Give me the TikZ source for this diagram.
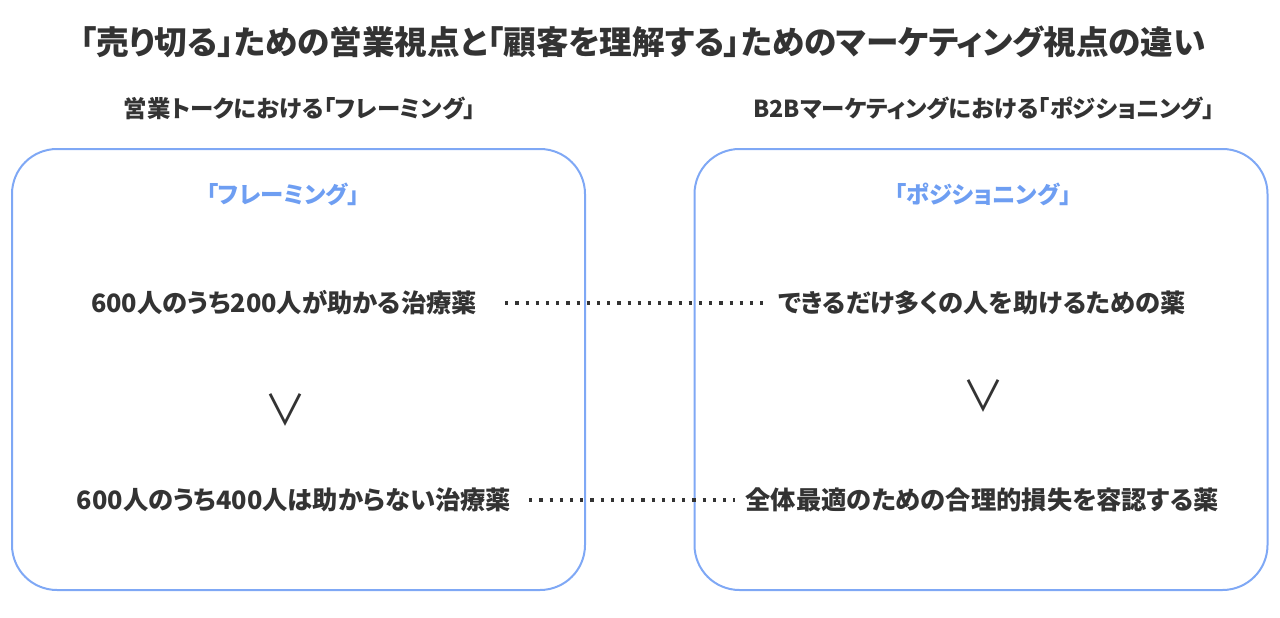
\documentclass[tikz,border=0pt]{standalone}
\usepackage{fontspec}
\setmainfont{Noto Sans CJK JP}[RawFeature=+palt]
\usetikzlibrary{positioning}
\definecolor{inkgray}{HTML}{333333}
\definecolor{frameblue}{HTML}{7FA8F5}
\definecolor{headblue}{HTML}{6E9EF2}

\begin{document}
\begin{tikzpicture}[x=1pt,y=-1pt,
    every node/.style={text=inkgray,inner sep=0pt},
    maintitle/.style={font=\bfseries\fontsize{32.6}{38}\selectfont},
    subtitle/.style={font=\bfseries\fontsize{23.4}{27}\selectfont},
    panel/.style={draw=frameblue,line width=2pt,rounded corners=45pt,
        minimum width=573pt,minimum height=441pt},
    panelhead/.style={text=headblue,font=\bfseries\fontsize{23.4}{27}\selectfont},
    rowtext/.style={font=\bfseries\fontsize{25.3}{29}\selectfont},
    gtsign/.style={font=\fontsize{42}{46}\selectfont},
    dotline/.style={draw=inkgray,line width=3.2pt,line cap=butt,
        dash pattern=on 3.2pt off 7pt}]
    \useasboundingbox (0,0) rectangle (1280,618);
    \node[maintitle] (title) at (643,42) {「売り切る」ための営業視点と「顧客を理解する」ためのマーケティング視点の違い};
    \node[subtitle] (lsub) at (300,108) {営業トークにおける「フレーミング」};
    \node[subtitle] (rsub) at (984,108) {B2Bマーケティングにおける「ポジショニング」};
    \node[panel] (lbox) at (298.5,369.5) {};
    \node[panel] (rbox) at (981,369.5) {};
    \node[panelhead] (lhead) at (283,194) {「フレーミング」};
    \node[panelhead] (rhead) at (983,194) {「ポジショニング」};
    \node[rowtext] (fr1) at (284,303) {600人のうち200人が助かる治療薬};
    \node[rowtext] (po1) at (982,303) {できるだけ多くの人を助けるための薬};
    \node[gtsign] (lgt) at (285,410) {∨};
    \node[gtsign] (rgt) at (983,396) {∨};
    \node[rowtext] (fr2) at (294,500) {600人のうち400人は助からない治療薬};
    \node[rowtext] (po2) at (982,500) {全体最適のための合理的損失を容認する薬};
    \draw[dotline,shorten <=28pt,shorten >=14pt] (fr1) -- (po1);
    \draw[dotline,shorten <=18pt,shorten >=10pt] (fr2) -- (po2);
\end{tikzpicture}
\end{document}
